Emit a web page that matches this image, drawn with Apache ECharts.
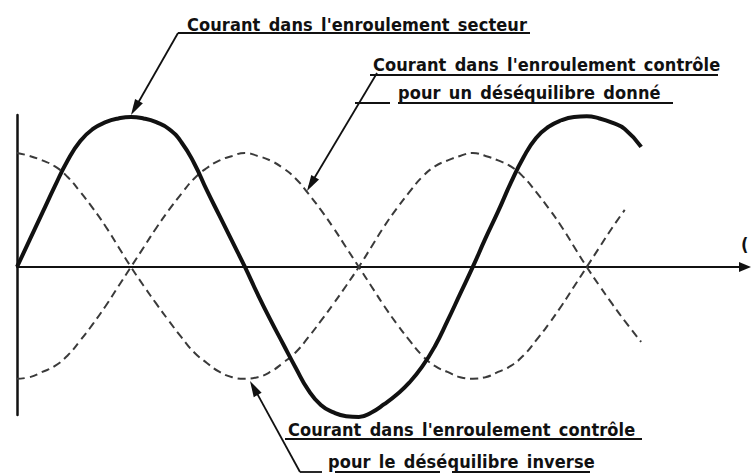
<!DOCTYPE html>
<html>
<head>
<meta charset="utf-8">
<script src="https://cdn.jsdelivr.net/npm/echarts@6/dist/echarts.min.js"></script>
<style>
  html, body { margin: 0; background: #fff; }
  #chart { width: 751px; height: 474px; }
  #chart text { letter-spacing: 0.1px; word-spacing: 2.5px; }
</style>
</head>
<body>
<div id="chart"></div>
<script>
// phase along the horizontal axis, in degrees
const phase = [0, 10, 20, 30, 40, 50, 60, 70, 80, 90, 100, 110, 120, 130, 140, 150, 160, 170, 180,
  190, 200, 210, 220, 230, 240, 250, 260, 270, 280, 290, 300, 310, 320, 330, 340, 350, 360,
  370, 380, 390, 400, 410, 420, 430, 440, 450, 460, 470, 480, 493];

// courant dans l'enroulement secteur (trait plein)
const secteur = [0, 0.18, 0.36, 0.54, 0.71, 0.84, 0.92, 0.965, 0.99, 1, 0.99, 0.965, 0.92, 0.83, 0.69, 0.51, 0.34, 0.17, 0,
  -0.18, -0.35, -0.51, -0.67, -0.82, -0.92, -0.97, -0.995, -1, -0.97, -0.915, -0.85, -0.77, -0.665, -0.53, -0.36, -0.18, 0,
  0.19, 0.37, 0.56, 0.73, 0.86, 0.935, 0.978, 1, 1.005, 0.99, 0.962, 0.92, 0.8];

// enroulement contrôle, déséquilibre donné (tirets)
const controleDonne = [0.76, 0.74, 0.71, 0.67, 0.6, 0.5, 0.39, 0.27, 0.135, 0, -0.125, -0.245, -0.36, -0.47, -0.57, -0.64, -0.7, -0.735, -0.745,
  -0.735, -0.7, -0.64, -0.57, -0.47, -0.36, -0.245, -0.125, 0, 0.135, 0.27, 0.39, 0.5, 0.6, 0.67, 0.71, 0.74, 0.76,
  0.74, 0.71, 0.67, 0.6, 0.5, 0.39, 0.27, 0.135, 0, -0.125, -0.245, -0.36, -0.5];

// enroulement contrôle, déséquilibre inverse (tirets)
const controleInverse = [-0.745, -0.735, -0.7, -0.66, -0.59, -0.49, -0.38, -0.26, -0.13, 0, 0.13, 0.26, 0.38, 0.49, 0.59, 0.66, 0.71, 0.74, 0.76,
  0.74, 0.71, 0.66, 0.59, 0.49, 0.38, 0.26, 0.13, 0, -0.13, -0.26, -0.38, -0.49, -0.59, -0.66, -0.7, -0.735, -0.745,
  -0.735, -0.7, -0.66, -0.59, -0.49, -0.38, -0.26, -0.13, 0, 0.13, 0.26, 0.38, null];

const txtSecteur = "Courant dans l'enroulement secteur";
const txtDonne1 = "Courant dans l'enroulement contrôle";
const txtDonne2 = "pour un déséquilibre donné";
const txtInverse1 = "Courant dans l'enroulement contrôle";
const txtInverse2 = "pour le déséquilibre inverse";

const ink = '#111';
const font = 'bold 18px "DejaVu Sans Condensed", "Liberation Sans Narrow", sans-serif';

function label(text, x, y) {
  return { type: 'text', x: x, y: y, z: 10, style: { text: text, font: font, fill: ink, align: 'left', verticalAlign: 'middle' } };
}
function seg(x1, y1, x2, y2, w) {
  return { type: 'line', z: 10, shape: { x1: x1, y1: y1, x2: x2, y2: y2 }, style: { stroke: ink, lineWidth: w || 1.8 } };
}
// filled arrow head, tip at (tx,ty), pointing away from (fx,fy)
function arrow(fx, fy, tx, ty) {
  const dx = tx - fx, dy = ty - fy, len = Math.hypot(dx, dy);
  const ux = dx / len, uy = dy / len, L = 16, H = 4.5;
  const bx = tx - ux * L, by = ty - uy * L;
  return { type: 'polygon', z: 11, shape: { points: [[tx, ty], [bx - uy * H, by + ux * H], [bx + uy * H, by - ux * H]] }, style: { fill: ink } };
}

const chart = echarts.init(document.getElementById('chart'), null, { renderer: 'svg' });
chart.setOption({
  animation: false,
  grid: { left: 17, right: 6, top: 115, bottom: 59, containLabel: false },
  xAxis: {
    type: 'value', min: 0, max: 575,
    axisLine: { onZero: true, symbol: ['none', 'triangle'], symbolSize: [10, 12], lineStyle: { color: ink, width: 2 } },
    axisTick: { show: false }, axisLabel: { show: false }, splitLine: { show: false }
  },
  yAxis: {
    type: 'value', min: -0.987, max: 1.013,
    axisLine: { show: true, lineStyle: { color: ink, width: 2.5 } },
    axisTick: { show: false }, axisLabel: { show: false }, splitLine: { show: false }
  },
  series: [
    {
      name: 'donne', type: 'line', smooth: true, symbol: 'none', clip: false,
      data: phase.map((p, i) => [p, controleDonne[i]]),
      lineStyle: { color: '#3a3a3a', width: 2, type: [8, 5] }
    },
    {
      name: 'inverse', type: 'line', smooth: true, symbol: 'none', clip: false,
      data: phase.map((p, i) => [p, controleInverse[i]]),
      lineStyle: { color: '#3a3a3a', width: 2, type: [8, 5] }
    },
    {
      name: 'secteur', type: 'line', smooth: true, symbol: 'none', clip: false, z: 5,
      data: phase.map((p, i) => [p, secteur[i]]),
      lineStyle: { color: ink, width: 4 }
    }
  ],
  graphic: [
    label(txtSecteur, 187, 24),
    seg(178, 33, 530, 33),
    seg(178, 33, 134, 110),
    arrow(178, 33, 131, 115),

    label(txtDonne1, 373, 64),
    seg(370, 75, 718, 75),
    label(txtDonne2, 398, 92),
    seg(355, 103, 390, 103),
    seg(398, 103, 673, 103),
    seg(377, 73, 309, 187),
    arrow(377, 73, 307, 191),

    label(txtInverse1, 288, 429),
    seg(285, 439, 642, 439),
    label(txtInverse2, 328, 461),
    seg(300, 472, 322, 472),
    seg(335, 472, 440, 472),
    seg(452, 472, 590, 472),
    seg(254, 388, 300, 472),
    arrow(300, 472, 250, 381),

    label('(', 741, 244)
  ]
});
</script>
</body>
</html>
